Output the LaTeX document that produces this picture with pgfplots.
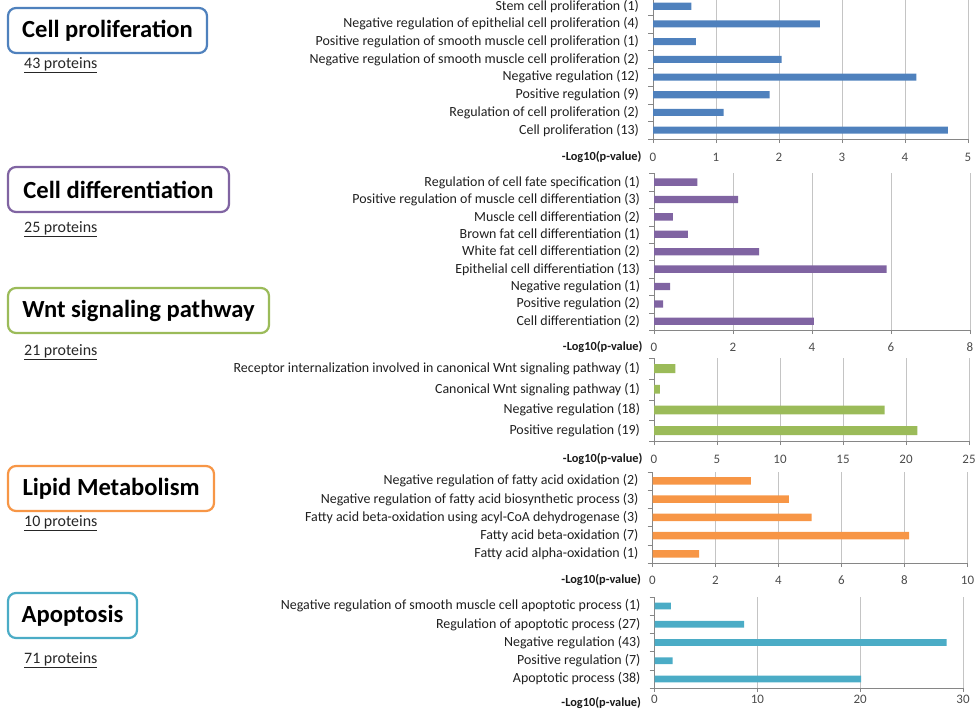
\documentclass[border=0pt]{standalone}
\usepackage{fontspec}
\setmainfont{Carlito}
\usepackage{pgfplots}
\pgfplotsset{compat=1.18}
\definecolor{cblue}{HTML}{4F81BD}
\definecolor{cpurple}{HTML}{8064A2}
\definecolor{cgreen}{HTML}{9BBB59}
\definecolor{corange}{HTML}{F79646}
\definecolor{cteal}{HTML}{4BACC6}
\definecolor{axgray}{HTML}{868686}
\definecolor{grgray}{HTML}{C4C4C4}
\pgfplotsset{
  panel/.style={
    scale only axis,
    xbar, bar width=0.4,
    axis x line*=bottom, axis y line*=left,
    axis line style={draw=axgray, -},
    xmin=0,
    xmajorgrids, major grid style={grgray, line width=0.9bp},
    tick align=outside,
    xtick pos=bottom, ytick pos=left,
    major tick length=4bp,
    y tick style={draw=none},
    minor y tick style={draw=axgray},
    x tick style={draw=axgray},
    minor tick length=5bp,
    ytick={0,1,...,12},
    yticklabel style={font=\fontsize{14}{15}\selectfont, text=black!88, xshift=-6.5bp},
    xticklabel style={font=\fontsize{13}{15}\selectfont, text=black!70},
    /pgf/number format/assume math mode=true,
    clip=false,
  },
}
\tikzset{loglab/.style={anchor=east, font=\bfseries\fontsize{12.4}{14}\selectfont, text=black!90}}
\begin{document}
\begin{tikzpicture}[x=1bp,y=1bp]
% ---------- Panel 1: Cell proliferation ----------
\begin{axis}[panel, at={(653bp,-139bp)}, anchor=south west,
  width=315bp, height=141.6bp,
  xmax=5, xtick={0,1,2,3,4,5},
  ymin=-0.5, ymax=7.5, minor ytick={-0.5,0.5,...,7.5},
  yticklabels={Cell proliferation (13),Regulation of cell proliferation (2),Positive regulation (9),Negative regulation (12),Negative regulation of smooth muscle cell proliferation (2),Positive regulation of smooth muscle cell proliferation (1),Negative regulation of epithelial cell proliferation (4),Stem cell proliferation (1)},
  xticklabel style={yshift=-6.5bp}]
\addplot[fill=cblue, draw=none] coordinates {(4.68,0) (1.12,1) (1.85,2) (4.18,3) (2.04,4) (0.68,5) (2.65,6) (0.61,7)};
\node[loglab, xshift=-8bp, yshift=-18bp] at (rel axis cs:0,0) {-Log10(p-value)};
\end{axis}
% ---------- Panel 2: Cell differentiation ----------
\begin{axis}[panel, at={(654bp,-330bp)}, anchor=south west,
  width=316bp, height=156.6bp,
  xmax=8, xtick={0,2,4,6,8},
  ymin=-0.5, ymax=8.5, minor ytick={-0.5,0.5,...,8.5},
  bar width=0.42,
  yticklabels={Cell differentiation (2),Positive regulation (2),Negative regulation (1),Epithelial cell differentiation (13),White fat cell differentiation (2),Brown fat cell differentiation (1),Muscle cell differentiation (2),Positive regulation of muscle cell differentiation (3),Regulation of cell fate specification (1)},
  xticklabel style={yshift=-5.5bp}]
\addplot[fill=cpurple, draw=none] coordinates {(4.05,0) (0.23,1) (0.41,2) (5.89,3) (2.66,4) (0.86,5) (0.48,6) (2.13,7) (1.10,8)};
\node[loglab, xshift=-8bp, yshift=-17bp] at (rel axis cs:0,0) {-Log10(p-value)};
\end{axis}
% ---------- Panel 3: Wnt ----------
\begin{axis}[panel, at={(654bp,-441bp)}, anchor=south west,
  width=315bp, height=82.8bp,
  xmax=25, xtick={0,5,10,15,20,25},
  ymin=-0.5, ymax=3.5, minor ytick={-0.5,0.5,...,3.5},
  bar width=0.43,
  yticklabels={Positive regulation (19),Negative regulation (18),Canonical Wnt signaling pathway (1),Receptor internalization involved in canonical Wnt signaling pathway (1)},
  xticklabel style={yshift=-6.5bp}]
\addplot[fill=cgreen, draw=none] coordinates {(20.9,0) (18.3,1) (0.47,2) (1.69,3)};
\node[loglab, xshift=-8bp, yshift=-18bp] at (rel axis cs:0,0) {-Log10(p-value)};
\end{axis}
% ---------- Panel 4: Lipid ----------
\begin{axis}[panel, at={(652.5bp,-563bp)}, anchor=south west,
  width=315bp, height=91.25bp,
  xmax=10, xtick={0,2,4,6,8,10},
  ymin=-0.5, ymax=4.5, minor ytick={-0.5,0.5,...,4.5},
  yticklabels={Fatty acid alpha-oxidation (1),Fatty acid beta-oxidation (7),Fatty acid beta-oxidation using acyl-CoA dehydrogenase (3),Negative regulation of fatty acid biosynthetic process (3),Negative regulation of fatty acid oxidation (2)},
  xticklabel style={yshift=-5.5bp}]
\addplot[fill=corange, draw=none] coordinates {(1.48,0) (8.15,1) (5.05,2) (4.33,3) (3.12,4)};
\node[loglab, xshift=-8bp, yshift=-17bp] at (rel axis cs:0,0) {-Log10(p-value)};
\end{axis}
% ---------- Panel 5: Apoptosis ----------
\begin{axis}[panel, at={(654.5bp,-688bp)}, anchor=south west,
  width=308.5bp, height=91.25bp,
  xmax=30, xtick={0,10,20,30},
  ymin=-0.5, ymax=4.5, minor ytick={-0.5,0.5,...,4.5},
  bar width=0.37,
  yticklabels={Apoptotic process (38),Positive regulation (7),Negative regulation (43),Regulation of apoptotic process (27),Negative regulation of smooth muscle cell apoptotic process (1)},
  xticklabel style={yshift=0.5bp}]
\addplot[fill=cteal, draw=none] coordinates {(20.1,0) (1.75,1) (28.4,2) (8.71,3) (1.59,4)};
\node[loglab, xshift=-10bp, yshift=-15bp] at (rel axis cs:0,0) {-Log10(p-value)};
\end{axis}
% ---------- Left boxes ----------
\tikzset{box/.style={line width=2.2bp, rounded corners=8bp, fill=white},
  btitle/.style={font=\bfseries\fontsize{24.7}{28}\selectfont, text=black},
  bprot/.style={anchor=base west, inner sep=0pt, font=\fontsize{16}{18}\selectfont, text=black!85}}
\draw[box, draw=cblue] (8,-8) rectangle (207,-53);
\node[btitle] at (107.5,-30.5) {Cell proliferation};
\node[bprot] at (24,-68.5) {\underline{43 proteins}};
\draw[box, draw=cpurple] (8,-167) rectangle (229,-212);
\node[btitle] at (118.5,-189.5) {Cell differentiation};
\node[bprot] at (24,-232) {\underline{25 proteins}};
\draw[box, draw=cgreen] (8,-288) rectangle (269,-333);
\node[btitle] at (138.5,-310.5) {Wnt signaling pathway};
\node[bprot] at (24,-355) {\underline{21 proteins}};
\draw[box, draw=corange] (8,-466) rectangle (214,-511);
\node[btitle] at (111,-488.5) {Lipid Metabolism};
\node[bprot] at (24,-526) {\underline{10 proteins}};
\draw[box, draw=cteal] (8,-593) rectangle (137,-638);
\node[btitle] at (72.5,-615.5) {Apoptosis};
\node[bprot] at (24,-663) {\underline{71 proteins}};
\pgfresetboundingbox
\path[use as bounding box] (0,0) rectangle (979,-715);
\end{tikzpicture}
\end{document}
